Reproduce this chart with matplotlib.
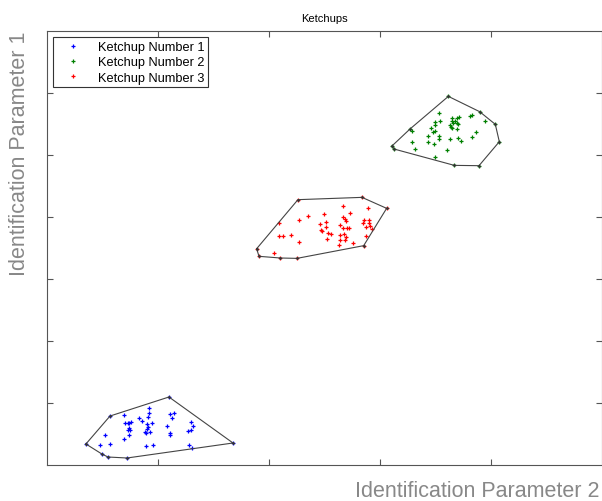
import numpy as np
import matplotlib.pyplot as plt

plt.rcParams['font.family'] = ['Liberation Sans', 'DejaVu Sans']

# Mediciones de cada ketchup (parametro 2, parametro 1)
k1_x = [0.351, 0.495, 0.550, 0.721, 1.676, 1.099, 0.568, 0.697, 0.826, 0.919, 0.919, 1.111,
        1.141, 1.129, 1.300, 1.318, 1.297, 1.267, 1.084, 1.105, 1.105, 0.946, 0.898, 0.907,
        0.904, 0.883, 0.931, 0.895, 0.856, 0.760, 0.742, 0.730, 0.706, 0.739, 0.733, 0.751,
        0.739, 0.691, 0.526, 0.474, 0.565, 0.889, 0.952, 1.282, 1.303, 0.907]
k1_y = [0.339, 0.177, 0.129, 0.113, 0.355, 1.097, 0.790, 0.806, 0.763, 0.833, 0.925, 0.823,
        0.844, 0.763, 0.699, 0.629, 0.570, 0.543, 0.629, 0.511, 0.489, 0.672, 0.656, 0.613,
        0.575, 0.532, 0.538, 0.511, 0.710, 0.699, 0.683, 0.683, 0.677, 0.591, 0.565, 0.570,
        0.478, 0.419, 0.478, 0.323, 0.333, 0.306, 0.317, 0.317, 0.274, 0.769]

k2_x = [3.616, 3.898, 4.039, 4.075, 3.892, 3.670, 3.126, 3.111, 3.270, 3.291, 3.529, 3.541,
        3.498, 3.498, 3.459, 3.493, 3.475, 3.435, 3.532, 3.535, 3.435, 3.484, 3.291, 3.318,
        3.493, 3.606, 3.628, 3.696, 3.709, 3.649, 3.649, 3.676, 3.655, 3.694, 3.631, 3.640,
        3.649, 3.703, 3.691, 3.811, 3.826, 3.949, 3.868, 3.829, 3.703, 3.732]
k2_y = [5.946, 5.699, 5.495, 5.215, 4.828, 4.833, 5.097, 5.151, 5.419, 5.392, 5.677, 5.554,
        5.537, 5.489, 5.435, 5.387, 5.366, 5.301, 5.301, 5.253, 5.204, 5.183, 5.215, 5.091,
        4.973, 5.075, 5.263, 5.602, 5.608, 5.592, 5.548, 5.548, 5.521, 5.521, 5.484, 5.457,
        5.430, 5.500, 5.419, 5.629, 5.645, 5.543, 5.366, 5.295, 5.279, 5.231]

k3_x = [2.261, 2.838, 3.060, 2.853, 2.252, 2.102, 1.910, 1.889, 2.087, 2.267, 2.354, 2.498,
        2.669, 2.733, 2.664, 2.682, 2.691, 2.895, 2.514, 2.462, 2.514, 2.468, 2.477, 2.643,
        2.667, 2.706, 2.718, 2.679, 2.637, 2.691, 2.529, 2.559, 2.525, 2.643, 2.682, 2.631,
        2.754, 2.856, 2.901, 2.850, 2.901, 2.910, 2.871, 2.928, 2.871, 2.201, 2.093, 2.123,
        2.267, 2.048]
k3_y = [4.280, 4.317, 4.140, 3.538, 3.333, 3.339, 3.366, 3.489, 3.898, 3.946, 4.016, 4.048,
        4.183, 4.065, 3.995, 3.962, 3.941, 4.140, 3.919, 3.882, 3.839, 3.785, 3.774, 3.871,
        3.823, 3.823, 3.823, 3.731, 3.704, 3.677, 3.747, 3.720, 3.651, 3.629, 3.624, 3.548,
        3.575, 3.946, 3.946, 3.898, 3.898, 3.855, 3.834, 3.812, 3.694, 3.710, 3.694, 3.699,
        3.597, 3.425]

nombres = ['Ketchup Number 1', 'Ketchup Number 2', 'Ketchup Number 3']
colores = ['#0000ff', '#008000', '#ff0000']


def envolvente(x, y):
    # Envolvente convexa (cadena monotona), devuelve el poligono cerrado
    pts = sorted(set(zip(x, y)))

    def cruz(o, a, b):
        return (a[0] - o[0]) * (b[1] - o[1]) - (a[1] - o[1]) * (b[0] - o[0])

    inf, sup = [], []
    for p in pts:
        while len(inf) >= 2 and cruz(inf[-2], inf[-1], p) <= 0:
            inf.pop()
        inf.append(p)
    for p in reversed(pts):
        while len(sup) >= 2 and cruz(sup[-2], sup[-1], p) <= 0:
            sup.pop()
        sup.append(p)
    h = inf[:-1] + sup[:-1]
    h.append(h[0])
    return np.array(h)


fig = plt.figure(figsize=(6.02, 5.02), dpi=100)
ax = fig.add_axes([0.078, 0.0717, 0.922, 0.8645])

datos = [(k1_x, k1_y), (k2_x, k2_y), (k3_x, k3_y)]
for (x, y), nom, c in zip(datos, nombres, colores):
    ax.plot(x, y, '+', color=c, markersize=2.5, markeredgewidth=0.9, label=nom)

for (x, y) in datos:
    h = envolvente(x, y)
    ax.plot(h[:, 0], h[:, 1], '-', color='#444444', linewidth=0.8)
    ax.plot(h[:-1, 0], h[:-1, 1], '.', color='#333333', markersize=2)

ax.set_xlim(0, 5)
ax.set_ylim(0, 7)
ax.set_xticks([1, 2, 3, 4])
ax.set_yticks([1, 2, 3, 4, 5, 6])
ax.tick_params(direction='in', length=4, top=True, right=True,
               labelbottom=False, labelleft=False, color='#555555')
for s in ax.spines.values():
    s.set_color('#555555')

ax.set_title('Ketchups', fontsize=8, pad=7)
ax.set_xlabel('Identification Parameter 2', loc='right', fontsize=15.5,
              color='#888888')
ax.xaxis.set_label_coords(0.995, -0.035)
ax.set_ylabel('Identification Parameter 1', loc='top', fontsize=15.5,
              color='#888888', labelpad=12)

leg = ax.legend(loc='upper left', fontsize=9.2, markerscale=1, handlelength=2.4,
                fancybox=False, framealpha=1, borderaxespad=0.5,
                borderpad=0.3, labelspacing=0.25, handletextpad=0.8)
leg.get_frame().set_edgecolor('#333333')
leg.get_frame().set_linewidth(0.8)

plt.savefig('out.png', dpi=100)
